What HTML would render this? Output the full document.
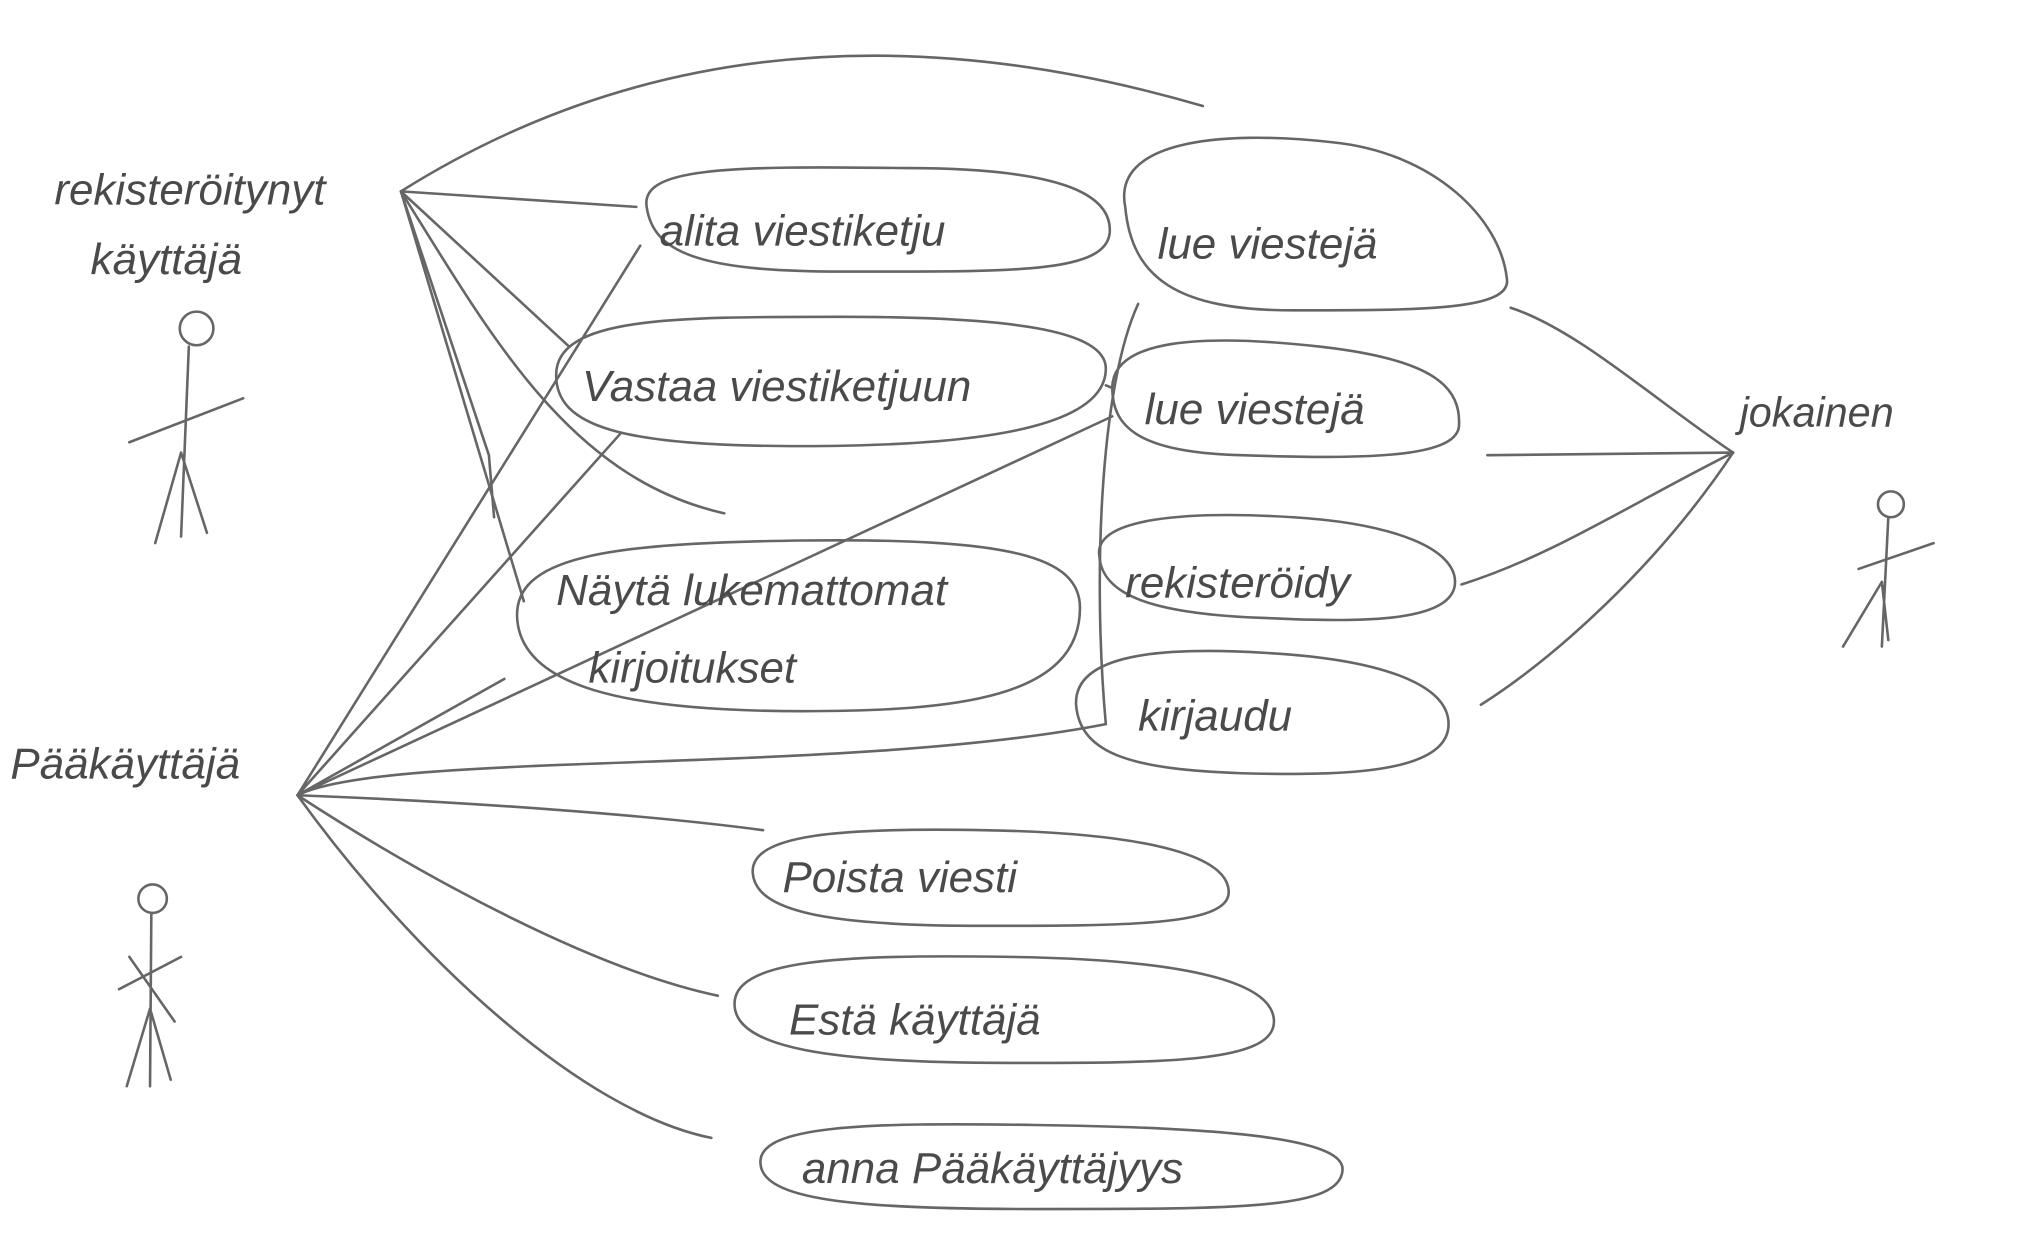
<!DOCTYPE html>
<html><head><meta charset="utf-8">
<style>
html,body{margin:0;padding:0;background:#fff;}
svg{display:block;}
text{font-family:"Liberation Sans",sans-serif;font-style:italic;fill:#4a4a4a;}
</style></head>
<body>
<svg width="2028" height="1253" viewBox="0 0 1568 969" preserveAspectRatio="none" xmlns="http://www.w3.org/2000/svg">
<rect width="1568" height="969" fill="#fff"/>
<g fill="none" stroke="#666" stroke-width="2" stroke-linecap="round">
<!-- ellipses -->
<path d="M500,160 C495,130 560,128 700,130 C820,130 860,150 858,180 C855,212 780,210 650,210 C540,210 505,195 500,160Z"/>
<path d="M870,160 C860,110 940,100 1030,110 C1110,118 1160,170 1165,215 C1170,240 1100,240 1000,240 C910,240 875,215 870,160Z"/>
<path d="M430,290 C430,245 520,245 650,245 C780,245 855,255 855,285 C855,330 760,345 620,345 C480,345 430,330 430,290Z"/>
<path d="M860,300 C860,262 930,258 1020,268 C1110,278 1130,300 1128,330 C1125,355 1050,355 960,352 C880,350 860,330 860,300Z"/>
<path d="M400,480 C395,430 470,420 620,418 C780,416 835,430 835,470 C835,540 740,550 620,550 C480,550 405,530 400,480Z"/>
<path d="M850,430 C845,400 920,395 1000,400 C1080,405 1125,425 1125,450 C1125,480 1060,482 980,478 C890,475 852,460 850,430Z"/>
<path d="M832,545 C830,505 900,500 980,505 C1070,510 1120,530 1120,560 C1120,598 1040,600 960,598 C880,595 835,585 832,545Z"/>
<path d="M582,675 C580,645 650,640 760,642 C880,644 950,660 950,690 C950,716 870,716 760,716 C640,716 584,705 582,675Z"/>
<path d="M568,778 C565,742 650,738 780,740 C920,742 985,760 985,790 C985,822 900,822 780,822 C640,822 570,810 568,778Z"/>
<path d="M588,900 C585,870 670,868 800,870 C960,872 1040,882 1038,905 C1036,935 960,935 800,935 C660,935 590,928 588,900Z"/>
<!-- actors -->
<circle cx="152" cy="254" r="13"/>
<path d="M146,268 L140,415 M100,342 L188,308 M140,350 L120,420 M140,350 L160,412"/>
<circle cx="118" cy="695" r="11"/>
<path d="M117,707 L116,840 M92,765 L140,740 M100,740 L135,790 M116,780 L98,840 M116,780 L132,835"/>
<circle cx="1462" cy="390" r="10"/>
<path d="M1460,400 L1455,500 M1437,440 L1495,420 M1455,450 L1425,500 M1455,450 L1460,495"/>
<!-- registered user lines -->
<path d="M310,148 C450,60 650,0 930,82"/>
<path d="M310,148 L492,160"/>
<path d="M310,148 L440,268"/>
<path d="M310,148 C380,260 440,370 560,397"/>
<path d="M310,148 L405,465"/>
<path d="M310,148 L378,352 L382,400"/>
<!-- admin lines -->
<path d="M230,615 L495,190"/>
<path d="M230,615 L480,335"/>
<path d="M230,615 L860,322"/>
<path d="M230,615 L390,525"/>
<path d="M230,615 C300,580 650,600 855,560"/>
<path d="M230,615 C360,620 500,630 590,642"/>
<path d="M230,615 C330,680 460,750 555,770"/>
<path d="M230,615 C320,740 450,860 550,880"/>
<path d="M855,298 L860,300"/>
<path d="M880,235 C850,300 845,450 855,560"/>
<!-- everyone lines -->
<path d="M1340,350 C1280,310 1220,255 1168,238"/>
<path d="M1340,350 L1150,352"/>
<path d="M1340,350 C1260,390 1200,430 1130,452"/>
<path d="M1340,350 C1280,440 1200,510 1145,545"/>
</g>
<text x="42" y="158" font-size="34">rekisteröitynyt</text>
<text x="70" y="212" font-size="34">käyttäjä</text>
<text x="8" y="602" font-size="34">Pääkäyttäjä</text>
<text x="1345" y="330" font-size="32">jokainen</text>
<text x="510" y="190" font-size="34">alita  viestiketju</text>
<text x="895" y="200" font-size="34">lue  viestejä</text>
<text x="450" y="310" font-size="34">Vastaa  viestiketjuun</text>
<text x="885" y="328" font-size="34">lue  viestejä</text>
<text x="430" y="468" font-size="34">Näytä  lukemattomat</text>
<text x="455" y="528" font-size="34">kirjoitukset</text>
<text x="870" y="462" font-size="34">rekisteröidy</text>
<text x="880" y="565" font-size="34">kirjaudu</text>
<text x="605" y="690" font-size="34">Poista  viesti</text>
<text x="610" y="800" font-size="34">Estä  käyttäjä</text>
<text x="620" y="915" font-size="34">anna  Pääkäyttäjyys</text>
</svg>
</body></html>
